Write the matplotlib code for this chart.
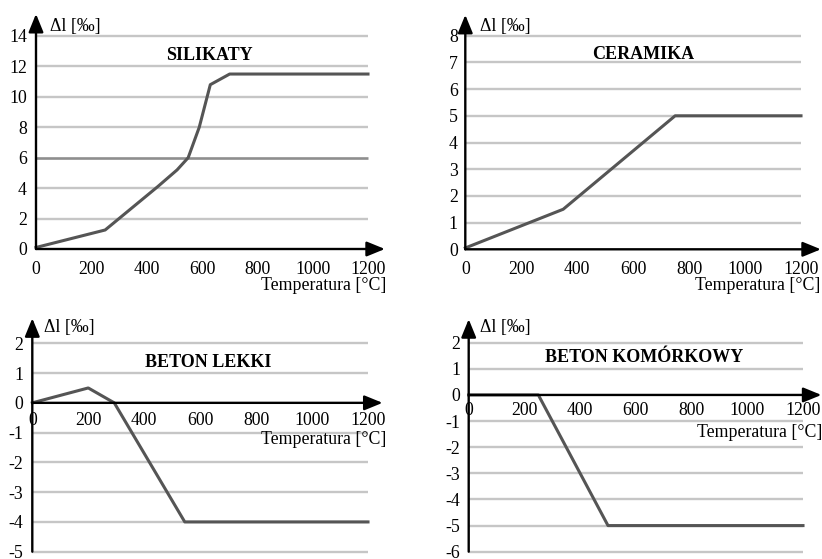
import matplotlib.pyplot as plt

plt.rcParams['font.family'] = ['Liberation Serif', 'DejaVu Serif']
plt.rcParams['axes.unicode_minus'] = False

temp_ticks = [0, 200, 400, 600, 800, 1000, 1200]

# silikaty
silikaty_t = [0, 250, 440, 510, 550, 590, 630, 700, 1200]
silikaty_dl = [0.1, 1.25, 4.1, 5.2, 6.0, 8.0, 10.8, 11.5, 11.5]
silikaty_yticks = [0, 2, 4, 6, 8, 10, 12, 14]

# ceramika
ceramika_t = [0, 350, 750, 1200]
ceramika_dl = [0.05, 1.5, 5.0, 5.0]
ceramika_yticks = [0, 1, 2, 3, 4, 5, 6, 7, 8]

# beton lekki
lekki_t = [0, 200, 293, 545, 1200]
lekki_dl = [0, 0.5, 0, -4, -4]
lekki_yticks = [-5, -4, -3, -2, -1, 0, 1, 2]

# beton komorkowy
komorkowy_t = [0, 250, 500, 1200]
komorkowy_dl = [0, 0, -5, -5]
komorkowy_yticks = [-6, -5, -4, -3, -2, -1, 0, 1, 2]

titles = ['SILIKATY', 'CERAMIKA', 'BETON LEKKI', 'BETON KOMÓRKOWY']
ylabel = 'Δl [‰]'
xlabel = 'Temperatura [°C]'

W, H = 822, 559


def box(x0, x1, ytop, ybot):
    return [x0 / W, 1 - ybot / H, (x1 - x0) / W, (ybot - ytop) / H]


# layout: axes box in px, ylim, arrow tips, title pos, label pos, tick pads
panels = [
    dict(t=silikaty_t, dl=silikaty_dl, yt=silikaty_yticks, title=titles[0],
         box=box(36, 368, 36, 249), ylim=(0, 14), xtip=1261, ytip=15.45,
         tpos=(625, 12.7), ylpos=(50, 14.6), xlpos=(1265, -2.4),
         xpad=9, ypad=6.5, dark=[6]),
    dict(t=ceramika_t, dl=ceramika_dl, yt=ceramika_yticks, title=titles[1],
         box=box(465.3, 801, 35.7, 249.3), ylim=(0, 8), xtip=1271, ytip=8.78,
         tpos=(635, 7.28), ylpos=(52, 8.33), xlpos=(1271, -1.36),
         xpad=8.5, ypad=5.5, dark=[]),
    dict(t=lekki_t, dl=lekki_dl, yt=lekki_yticks, title=titles[2],
         box=box(32.3, 368, 343.3, 551.7), ylim=(-5, 2), xtip=1252, ytip=2.84,
         tpos=(627, 1.34), ylpos=(42, 2.52), xlpos=(1264, -1.24),
         xpad=6.5, ypad=6.5, dark=[]),
    dict(t=komorkowy_t, dl=komorkowy_dl, yt=komorkowy_yticks, title=titles[3],
         box=box(468.7, 803, 342.7, 551.7), ylim=(-6, 2), xtip=1266, ytip=2.9,
         tpos=(631, 1.45), ylpos=(42, 2.58), xlpos=(1268, -1.45),
         xpad=5, ypad=6.2, dark=[]),
]

fig = plt.figure(figsize=(8.22, 5.59), dpi=100)

for p in panels:
    ax = fig.add_axes(p['box'])
    ax.set_xlim(0, 1200)
    ax.set_ylim(*p['ylim'])
    for s in ax.spines.values():
        s.set_visible(False)
    ax.spines['bottom'].set_position(('data', 0))
    ax.spines['left'].set_position(('data', 0))
    ax.set_xticks(temp_ticks)
    ax.set_yticks(p['yt'])
    ax.tick_params(axis='x', length=0, labelsize=12.8, pad=p['xpad'])
    ax.tick_params(axis='y', length=0, labelsize=12.8, pad=p['ypad'])
    ax.patch.set_alpha(0)

    light = [v for v in p['yt'] if v != 0 and v not in p['dark']]
    ax.hlines(light, 0, 1200, colors='#c6c6c6', lw=1.7, clip_on=False, zorder=1)
    if p['dark']:
        ax.hlines(p['dark'], 0, 1200, colors='#8e8e8e', lw=1.9, clip_on=False, zorder=1)

    ax.plot(p['t'], p['dl'], color='#555555', lw=2.2, clip_on=False, zorder=3)

    arrow = dict(arrowstyle='-|>,head_length=1.1,head_width=0.45', color='k',
                 lw=1.7, shrinkA=0, shrinkB=0)
    ax.annotate('', xy=(p['xtip'], 0), xytext=(0, 0), arrowprops=arrow,
                annotation_clip=False, zorder=4)
    ax.annotate('', xy=(0, p['ytip']), xytext=(0, p['ylim'][0]), arrowprops=arrow,
                annotation_clip=False, zorder=4)

    ax.text(p['tpos'][0], p['tpos'][1], p['title'], ha='center', va='center',
            fontsize=13, fontweight='bold')
    ax.text(p['ylpos'][0], p['ylpos'][1], ylabel, ha='left', va='center',
            fontsize=12.8, clip_on=False)
    ax.text(p['xlpos'][0], p['xlpos'][1], xlabel, ha='right', va='center',
            fontsize=12.8, clip_on=False)

fig.savefig('out.png', dpi=100)
